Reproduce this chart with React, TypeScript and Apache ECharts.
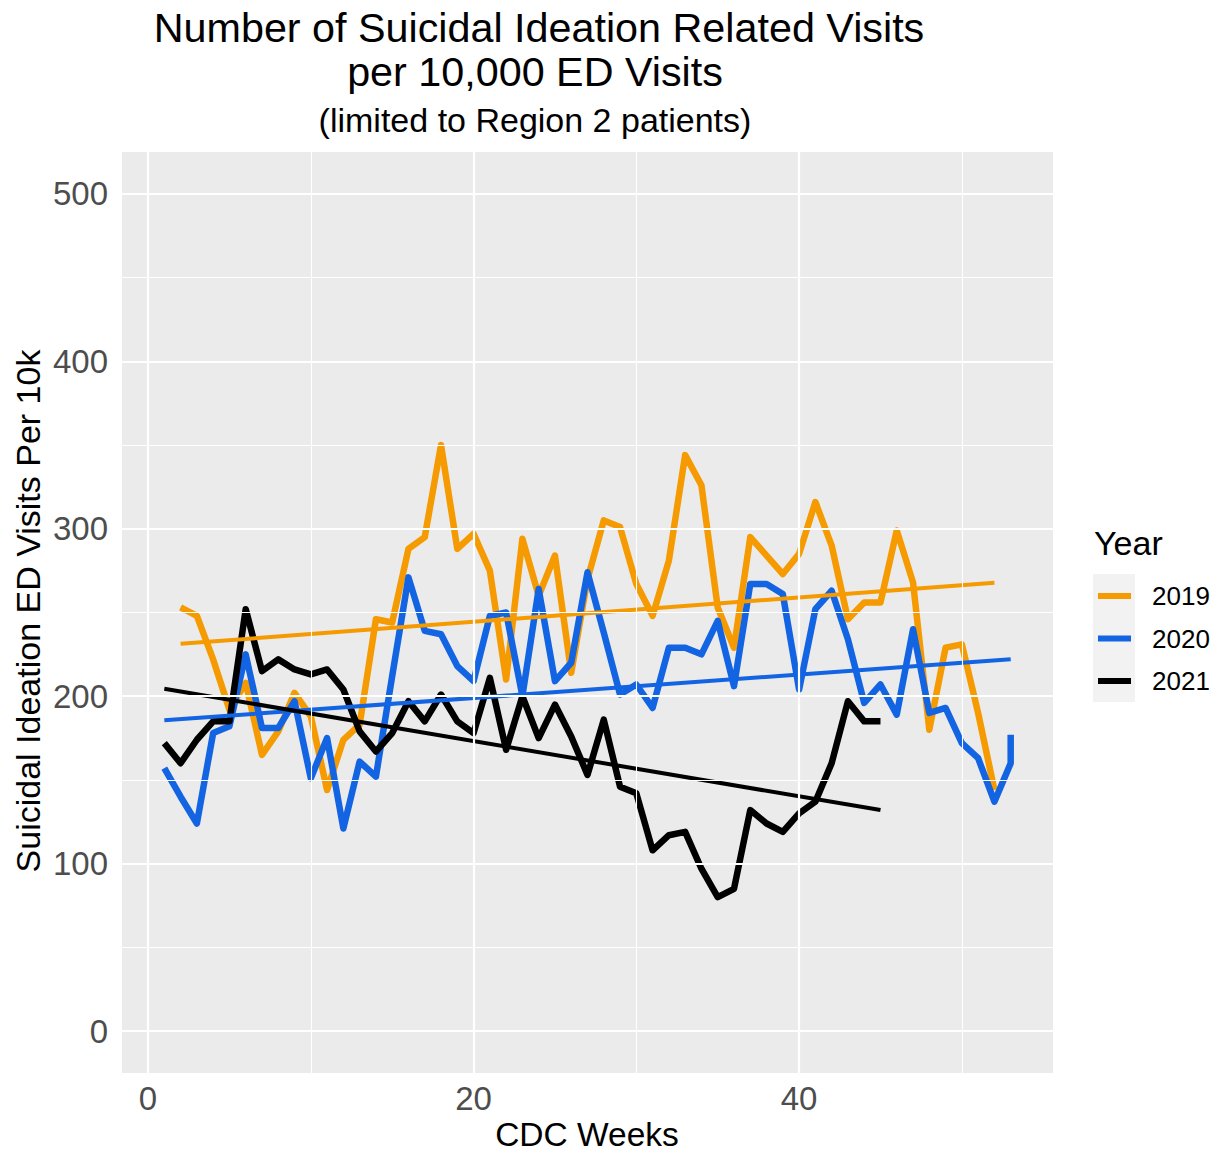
import React, { useEffect, useRef } from "react";
import * as echarts from "echarts";

const weeks2019 = [2,3,4,5,6,7,8,9,10,11,12,13,14,15,16,17,18,19,20,21,22,23,24,25,26,27,28,29,30,31,32,33,34,35,36,37,38,39,40,41,42,43,44,45,46,47,48,49,50,51,52];
const values2019 = [253,248,222,192,208,165,179,202,188,144,174,183,246,244,288,295,350,288,297,275,210,294,260,284,214,270,305,301,267,248,281,344,326,253,229,295,284,273,285,316,290,246,256,256,299,268,180,229,231,190,144];

const weeks2020 = [1,2,3,4,5,6,7,8,9,10,11,12,13,14,15,16,17,18,19,20,21,22,23,24,25,26,27,28,29,30,31,32,33,34,35,36,37,38,39,40,41,42,43,44,45,46,47,48,49,50,51,52,53,53];
const values2020 = [157,140,124,178,182,225,181,181,197,151,175,121,161,152,212,271,239,237,218,209,248,250,200,264,209,220,274,238,201,207,193,229,229,225,245,206,267,267,261,204,252,263,234,196,207,189,240,190,193,172,163,137,160,177];

const weeks2021 = [1,2,3,4,5,6,7,8,9,10,11,12,13,14,15,16,17,18,19,20,21,22,23,24,25,26,27,28,29,30,31,32,33,34,35,36,37,38,39,40,41,42,43,44,45];
const values2021 = [172,160,174,185,185,252,215,222,216,213,216,204,179,167,178,197,185,201,185,178,211,168,200,175,195,176,153,186,146,142,108,117,119,97,80,85,132,124,119,130,137,160,197,185,185];

// linear trend lines (start week, start value, end week, end value)
const trendWeeks = [[2, 52], [1, 53], [1, 45]];
const trendValues = [[231.3, 267.8], [185.6, 222.1], [204.5, 132.0]];

const yearNames = ["2019", "2020", "2021"];
const yearColors = ["#F59A00", "#1264E2", "#000000"];

const yTicks = [0, 100, 200, 300, 400, 500];
const yMinor = [50, 150, 250, 350, 450];
const xTicks = [0, 20, 40];
const xMinor = [10, 30, 50];

const FONT = '"Liberation Sans", Arial, Helvetica, sans-serif';

export default function App() {
  const ref = useRef<HTMLDivElement>(null);
  useEffect(() => {
    document.body.style.margin = "0";
    const chart = echarts.init(ref.current!, null, { renderer: "svg" });
    const sets = [
      [weeks2019, values2019],
      [weeks2020, values2020],
      [weeks2021, values2021],
    ];
    const dataSeries: any[] = [];
    const trendSeries: any[] = [];
    sets.forEach(([xs, ys], i) => {
      dataSeries.push({
        name: yearNames[i],
        type: "line",
        data: xs.map((x, j) => [x, ys[j]]),
        showSymbol: false,
        z: 3,
        itemStyle: { color: yearColors[i] },
        lineStyle: { color: yearColors[i], width: 6.5, cap: "butt", join: "round" },
      });
      trendSeries.push({
        name: yearNames[i],
        type: "line",
        data: trendWeeks[i].map((w, j) => [w, trendValues[i][j]]),
        showSymbol: false,
        z: 4,
        itemStyle: { color: yearColors[i] },
        lineStyle: { color: yearColors[i], width: 4, cap: "butt" },
      });
    });

    const gridSeries = {
      name: "grid",
      type: "line",
      data: [],
      z: 1,
      silent: true,
      markLine: {
        silent: true,
        symbol: ["none", "none"],
        label: { show: false },
        animation: false,
        data: [
          ...yMinor.map((v) => ({ yAxis: v, lineStyle: { color: "#FFFFFF", width: 1.1, type: "solid" } })),
          ...xMinor.map((v) => ({ xAxis: v, lineStyle: { color: "#FFFFFF", width: 1.1, type: "solid" } })),
          ...yTicks.map((v) => ({ yAxis: v, lineStyle: { color: "#FFFFFF", width: 2.2, type: "solid" } })),
          ...xTicks.map((v) => ({ xAxis: v, lineStyle: { color: "#FFFFFF", width: 2.2, type: "solid" } })),
        ],
      },
    };

    const legendTop = 596;
    const legendStep = 42.5;
    const legendGraphics: any[] = [
      {
        type: "text",
        x: 1094,
        y: 543,
        style: { text: "Year", fill: "#000", font: `34px ${FONT}`, align: "left", verticalAlign: "middle" },
      },
      {
        type: "rect",
        shape: { x: 1093, y: 574, width: 42, height: 128 },
        style: { fill: "#F2F2F2" },
      },
    ];
    yearNames.forEach((n, i) => {
      const y = legendTop + i * legendStep;
      legendGraphics.push({
        type: "line",
        shape: { x1: 1098, y1: y, x2: 1131, y2: y },
        style: { stroke: yearColors[i], lineWidth: 6 },
      });
      legendGraphics.push({
        type: "text",
        x: 1152,
        y: y,
        style: { text: n, fill: "#000", font: `26px ${FONT}`, align: "left", verticalAlign: "middle" },
      });
    });

    chart.setOption({
      animation: false,
      textStyle: { fontFamily: FONT },
      grid: {
        left: 122,
        top: 152,
        width: 931,
        height: 921,
        show: true,
        backgroundColor: "#EBEBEB",
        borderWidth: 0,
        containLabel: false,
      },
      xAxis: {
        type: "value",
        min: -1.6,
        max: 55.6,
        axisLine: { show: false },
        splitLine: { show: false },
        axisTick: { show: true, length: 7, lineStyle: { color: "#333333", width: 2 }, customValues: xTicks },
        axisLabel: { customValues: xTicks, color: "#4D4D4D", fontSize: 33, margin: 9, fontFamily: FONT },
      },
      yAxis: {
        type: "value",
        min: -25,
        max: 525,
        axisLine: { show: false },
        splitLine: { show: false },
        axisTick: { show: true, length: 7, lineStyle: { color: "#333333", width: 2 }, customValues: yTicks },
        axisLabel: { customValues: yTicks, color: "#4D4D4D", fontSize: 33, margin: 14, fontFamily: FONT },
      },
      series: [gridSeries, ...dataSeries, ...trendSeries],
      graphic: [
        {
          type: "text",
          x: 539,
          y: 28,
          style: { text: "Number of Suicidal Ideation Related Visits", fill: "#000", font: `41.3px ${FONT}`, align: "center", verticalAlign: "middle" },
        },
        {
          type: "text",
          x: 535,
          y: 72,
          style: { text: "per 10,000 ED Visits", fill: "#000", font: `41.3px ${FONT}`, align: "center", verticalAlign: "middle" },
        },
        {
          type: "text",
          x: 535,
          y: 120,
          style: { text: "(limited to Region 2 patients)", fill: "#000", font: `34px ${FONT}`, align: "center", verticalAlign: "middle" },
        },
        {
          type: "text",
          x: 587,
          y: 1134,
          style: { text: "CDC Weeks", fill: "#000", font: `33.5px ${FONT}`, align: "center", verticalAlign: "middle" },
        },
        {
          type: "text",
          x: 28,
          y: 611,
          rotation: Math.PI / 2,
          style: { text: "Suicidal Ideation ED Visits Per 10k", fill: "#000", font: `34px ${FONT}`, align: "center", verticalAlign: "middle" },
        },
        ...legendGraphics,
      ],
    });
    return () => chart.dispose();
  }, []);
  return <div ref={ref} style={{ width: 1220, height: 1152 }} />;
}
